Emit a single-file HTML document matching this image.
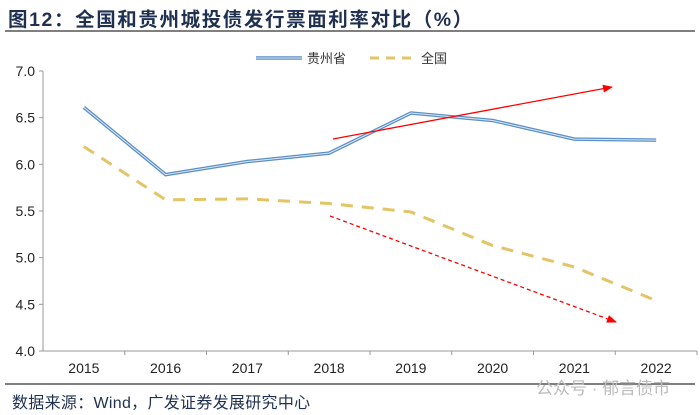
<!DOCTYPE html>
<html><head><meta charset="utf-8"><style>
body{margin:0;background:#fff;}
#c{position:relative;width:700px;height:415px;font-family:"Liberation Sans","Noto Sans CJK SC",sans-serif;}
.t{position:absolute;left:8px;top:3px;font-size:19.5px;font-weight:bold;color:#1f3050;letter-spacing:1.6px;}
.src{position:absolute;left:12px;top:389px;font-size:16px;color:#1f3050;letter-spacing:0.3px;}
.wm{position:absolute;left:536px;top:374px;font-size:17px;color:#bbb;}
</style></head><body>
<div id="c">
<div class="t">图12：全国和贵州城投债发行票面利率对比（%）</div>
<svg width="700" height="415" style="position:absolute;left:0;top:0" id="svg">
<line x1="5" y1="31" x2="695" y2="31" stroke="#555" stroke-width="1.5"/>
<line x1="5" y1="384" x2="695" y2="384" stroke="#555" stroke-width="1.5"/>
<g id="axes"></g><g id="series"></g>
<g>
<line x1="256" y1="58" x2="302" y2="58" stroke="#5b8fc7" stroke-width="3.5"/>
<line x1="256" y1="58" x2="302" y2="58" stroke="#dce8f4" stroke-width="1"/>
<text x="307" y="63" font-size="13" fill="#333">贵州省</text>
<line x1="370" y1="58" x2="416" y2="58" stroke="#e3c466" stroke-width="3" stroke-dasharray="9,7"/>
<text x="421" y="63" font-size="13" fill="#333">全国</text>
</g>
<defs><marker id="ah" markerWidth="10" markerHeight="8" refX="9" refY="4" orient="auto" markerUnits="userSpaceOnUse"><path d="M0,0L10,4L0,8z" fill="#f00"/></marker></defs>
<line x1="333" y1="139" x2="612" y2="87" stroke="#f00" stroke-width="1.3" marker-end="url(#ah)"/>
<line x1="330" y1="216" x2="616" y2="322" stroke="#f00" stroke-width="1.3" stroke-dasharray="4,3" marker-end="url(#ah)"/>
</svg>
<div class="wm">公众号 · 郁言债市</div>
<div class="src">数据来源：Wind，广发证券发展研究中心</div>
</div>
<script>
const years=["2015","2016","2017","2018","2019","2020","2021","2022"];
const guizhou=[6.61,5.89,6.03,6.12,6.55,6.47,6.27,6.26];
const national=[6.19,5.62,5.63,5.58,5.49,5.13,4.90,4.54];
const yTicks=[4.0,4.5,5.0,5.5,6.0,6.5,7.0];
const NS="http://www.w3.org/2000/svg";
const L=43,R=697,T=71,B=351,ymin=4,ymax=7;
const bw=(R-L)/years.length;
const x=i=>L+bw*(i+0.5);
const y=v=>B-(v-ymin)/(ymax-ymin)*(B-T);
function mk(t,a,p){const e=document.createElementNS(NS,t);for(const k in a)e.setAttribute(k,a[k]);p.appendChild(e);return e;}
const ax=document.getElementById('axes'),se=document.getElementById('series');
let e=mk('line',{x1:L,y1:T,x2:L,y2:B,stroke:'#999'},ax);


e=mk('line',{x1:L,y1:B,x2:R,y2:B,stroke:'#999'},ax);


yTicks.forEach(v=>{
 mk('line',{x1:L-4,y1:y(v),x2:L,y2:y(v),stroke:'#999'},ax);
 const t=mk('text',{x:L-8,y:y(v)+5,'text-anchor':'end','font-size':14,fill:'#222'},ax);
 t.textContent=v.toFixed(1);
 
 
});
years.forEach((yr,i)=>{
 mk('line',{x1:L+bw*(i+1),y1:B,x2:L+bw*(i+1),y2:B+4,stroke:'#999'},ax);
 const t=mk('text',{x:x(i),y:B+22,'text-anchor':'middle','font-size':14,fill:'#222'},ax);
 t.textContent=yr;
 
 
});
const pts=a=>a.map((v,i)=>x(i)+','+y(v)).join(' ');
e=mk('polyline',{points:pts(national),fill:'none',stroke:'#e3c466','stroke-width':3,'stroke-dasharray':'12,9'},se);


e=mk('polyline',{points:pts(guizhou),fill:'none',stroke:'#5b8fc7','stroke-width':3.5},se);


mk('polyline',{points:pts(guizhou),fill:'none',stroke:'#dce8f4','stroke-width':1},se);
</script>
</body></html>
